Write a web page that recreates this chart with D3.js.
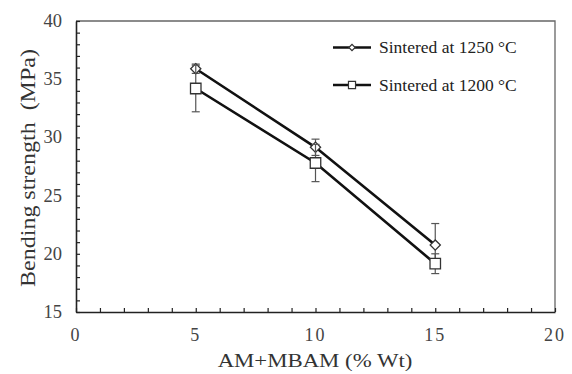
<!DOCTYPE html>
<html lang="en">
<head>
<meta charset="utf-8">
<title>Bending strength</title>
<script src="https://d3js.org/d3.v7.min.js"></script>
<style>
  body { margin: 0; background: #fff; }
  text { font-family: "Liberation Serif", "Times New Roman", serif; }
</style>
</head>
<body>
<script>
// data
const content = [5, 10, 15];
const s1250 = [35.9, 29.15, 20.75];
const e1250 = [0.4, 0.7, 1.85];
const s1200 = [34.2, 27.8, 19.15];
const e1200 = [2.0, 1.6, 0.85];
const seriesNames = ["Sintered at 1250 \u00B0C", "Sintered at 1200 \u00B0C"];
const xTicks = [0, 5, 10, 15, 20];
const yTicks = [15, 20, 25, 30, 35, 40];

const w = 572, h = 374;
const mLeft = 76, mRight = 555, mTop = 21, mBottom = 312;

const svg = d3.select("body").append("svg")
  .attr("width", w).attr("height", h);

const x = d3.scaleLinear().domain([0, 20]).range([mLeft, mRight]);
const y = d3.scaleLinear().domain([15, 40]).range([mBottom, mTop]);

// frame top/right
svg.append("path")
  .attr("d", `M${mLeft},${mTop}H${mRight}V${mBottom}`)
  .attr("fill", "none").attr("stroke", "#666").attr("stroke-width", 1.3);

// axes with inward ticks
const xAxis = svg.append("g").attr("transform", `translate(0,${mBottom})`)
  .call(d3.axisTop(x).ticks(20).tickSize(4).tickSizeOuter(0).tickFormat(""));
const yAxis = svg.append("g").attr("transform", `translate(${mLeft},0)`)
  .call(d3.axisRight(y).ticks(25).tickSize(4).tickSizeOuter(0).tickFormat(""));
[xAxis, yAxis].forEach(g => {
  g.select(".domain").attr("stroke", "#222").attr("stroke-width", 1.6);
  g.selectAll(".tick line").attr("stroke", "#222").attr("stroke-width", 1.2);
});

// tick labels
svg.selectAll(".xl").data(xTicks).enter().append("text")
  .attr("x", d => x(d)).attr("y", 341)
  .attr("text-anchor", "middle").attr("font-size", 18).attr("fill", "#444")
  .attr("letter-spacing", 2)
  .text(d => d);
svg.selectAll(".yl").data(yTicks).enter().append("text")
  .attr("x", 62).attr("y", d => y(d) + 6)
  .attr("text-anchor", "end").attr("font-size", 18.5).attr("fill", "#444")
  .text(d => d);

// axis titles (source image is slightly stretched along the text)
svg.append("text").attr("transform", "translate(315,367) scale(1.2,1)")
  .attr("text-anchor", "middle").attr("font-size", 19).attr("fill", "#333")
  .text("AM+MBAM (% Wt)");
svg.append("text").attr("transform", "translate(35,168) rotate(-90) scale(1.2,1)")
  .attr("text-anchor", "middle").attr("font-size", 20).attr("fill", "#333")
  .attr("xml:space", "preserve")
  .text("Bending strength  (MPa)");

const line = d3.line().x(d => x(d[0])).y(d => y(d[1]));
const series = [
  { vals: s1250, err: e1250, rot: 45, size: 52 },
  { vals: s1200, err: e1200, rot: 0, size: 110 }
];

series.forEach(s => {
  const pts = content.map((c, i) => [c, s.vals[i], s.err[i]]);
  // error bars
  const eb = svg.append("g").attr("stroke", "#555").attr("stroke-width", 1.2);
  pts.forEach(p => {
    eb.append("line").attr("x1", x(p[0])).attr("x2", x(p[0]))
      .attr("y1", y(p[1] - p[2])).attr("y2", y(p[1] + p[2]));
    [p[1] - p[2], p[1] + p[2]].forEach(v => {
      eb.append("line").attr("x1", x(p[0]) - 4).attr("x2", x(p[0]) + 4)
        .attr("y1", y(v)).attr("y2", y(v));
    });
  });
  svg.append("path").datum(pts).attr("d", line)
    .attr("fill", "none").attr("stroke", "#111").attr("stroke-width", 2.6);
  svg.selectAll(null).data(pts).enter().append("path")
    .attr("transform", d => `translate(${x(d[0])},${y(d[1])}) rotate(${s.rot})`)
    .attr("d", d3.symbol().type(d3.symbolSquare).size(s.size))
    .attr("fill", "#fff").attr("stroke", "#333").attr("stroke-width", 1.3);
});

// legend
const lg = svg.append("g");
[47.5, 85].forEach((ly, i) => {
  lg.append("line").attr("x1", 333).attr("x2", 371).attr("y1", ly).attr("y2", ly)
    .attr("stroke", "#111").attr("stroke-width", 2.4);
  lg.append("path").attr("transform", `translate(352,${ly}) rotate(${series[i].rot})`)
    .attr("d", d3.symbol().type(d3.symbolSquare).size(i ? 50 : 20))
    .attr("fill", "#fff").attr("stroke", "#333").attr("stroke-width", 1.2);
  lg.append("text").attr("x", 379).attr("y", ly + 5.5)
    .attr("font-size", 17.5).attr("fill", "#222").text(seriesNames[i]);
});
</script>
</body>
</html>
